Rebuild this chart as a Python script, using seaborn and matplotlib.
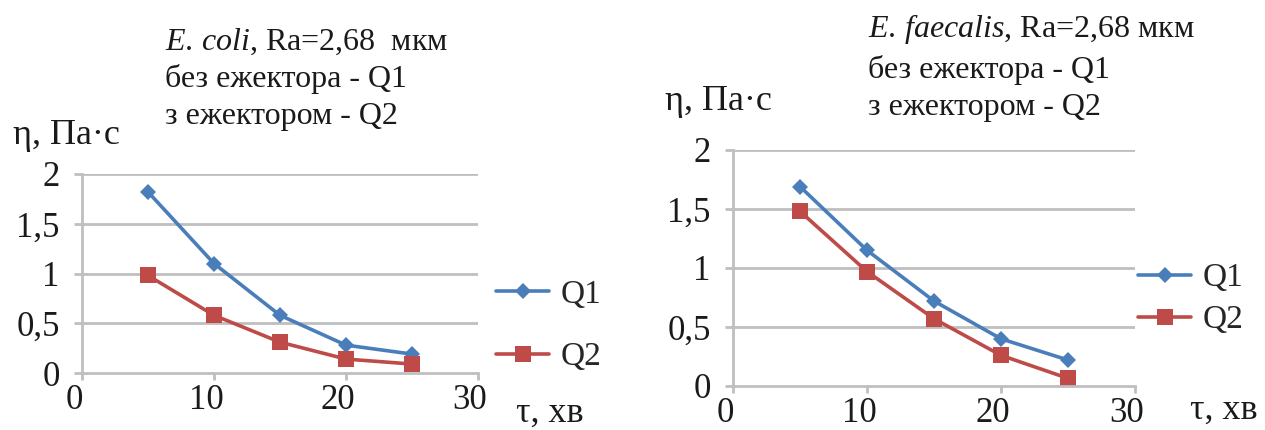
import matplotlib
matplotlib.use("Agg")
import matplotlib.pyplot as plt
import matplotlib.transforms as mtransforms
import seaborn as sns
import pandas as pd

# ---- data ----
time_min = [5, 10, 15, 20, 25]
ecoli_q1 = [1.82, 1.10, 0.58, 0.28, 0.19]
ecoli_q2 = [0.98, 0.58, 0.31, 0.14, 0.09]
faec_q1 = [1.69, 1.15, 0.72, 0.40, 0.22]
faec_q2 = [1.48, 0.97, 0.57, 0.26, 0.065]
series_names = ["Q1", "Q2"]
x_ticks = [0, 10, 20, 30]
y_ticks = [0, 0.5, 1, 1.5, 2]
y_ticklabels = ["0", "0,5", "1", "1,5", "2"]
titles_left = [r"$\mathit{E.\,coli}$, Ra=2,68  мкм", "без ежектора - Q1", "з ежектором - Q2"]
titles_right = [r"$\mathit{E.\,faecalis}$, Ra=2,68 мкм", "без ежектора - Q1", "з ежектором - Q2"]
ylabel = "η, Па·с"
xlabel = "τ, хв"

sns.set_theme(style="white")
plt.rcParams["font.family"] = "serif"
plt.rcParams["font.serif"] = ["Liberation Serif", "DejaVu Serif"]
plt.rcParams["mathtext.fontset"] = "custom"
plt.rcParams["mathtext.it"] = "Liberation Serif:italic"
plt.rcParams["mathtext.rm"] = "Liberation Serif"

SERIF = ["Liberation Serif", "DejaVu Serif"]

W, H = 1265, 430
fig = plt.figure(figsize=(W / 100, H / 100), dpi=100)
fig.patch.set_facecolor("white")

blue = "#4a7ebb"
red = "#be4b48"
grid_c = "#bfbfbf"
FS_T = 23
FS_TICK = 25
FS_LEG = 24
txt_c = "#1a1a1a"


def px_rect(x0, x1, y_top, y_bot):
    return [x0 / W, 1 - y_bot / H, (x1 - x0) / W, (y_bot - y_top) / H]


def make_panel(rect, q1, q2, titles, title_x, title_ys, ylab_xy, xlab_xy,
               leg_xy, leg_spacing):
    ax = fig.add_axes(rect)
    df = pd.DataFrame({
        "t": time_min * 2,
        "eta": list(q1) + list(q2),
        "s": [series_names[0]] * len(time_min) + [series_names[1]] * len(time_min),
    })
    sns.lineplot(data=df, x="t", y="eta", hue="s", style="s",
                 palette={"Q1": blue, "Q2": red},
                 markers={"Q1": "D", "Q2": "s"}, dashes=False,
                 markersize=9, linewidth=2.6, ax=ax, legend=True,
                 markeredgewidth=0)
    for ln in ax.get_lines():
        if ln.get_marker() == "D":
            ln.set_markersize(8.5)
        elif ln.get_marker() == "s":
            ln.set_markersize(11)
    ax.set_xlim(0, 30)
    ax.set_ylim(0, 2)
    ax.set_xticks(x_ticks)
    ax.set_xticklabels([str(v) for v in x_ticks], family=SERIF)
    ax.set_yticks(y_ticks)
    ax.set_yticklabels(y_ticklabels, family=SERIF)
    ax.set_xlabel("")
    ax.set_ylabel("")
    ax.grid(False)
    for yv in y_ticks[1:]:
        ax.axhline(yv, color=grid_c, lw=2.0, zorder=0)
    for side in ["top", "right"]:
        ax.spines[side].set_visible(False)
    for side in ["left", "bottom"]:
        ax.spines[side].set_color(grid_c)
        ax.spines[side].set_linewidth(2.0)
    ax.tick_params(axis="y", which="major", direction="out", length=6,
                   width=2.0, color=grid_c, labelsize=FS_TICK, pad=10,
                   labelcolor=txt_c)
    ax.tick_params(axis="x", which="major", direction="out", length=5,
                   width=2.0, color=grid_c, labelsize=FS_TICK, pad=3,
                   labelcolor=txt_c)
    ax.tick_params(left=True, bottom=True)
    off = mtransforms.ScaledTranslation(-8 / 100, 0, fig.dpi_scale_trans)
    for lab in ax.get_xticklabels():
        lab.set_transform(lab.get_transform() + off)
    ax.set_facecolor("white")

    handles, labels = ax.get_legend_handles_labels()
    ax.legend(handles, labels, loc="center left",
              bbox_to_anchor=(leg_xy[0] / W, 1 - leg_xy[1] / H),
              bbox_transform=fig.transFigure, frameon=False,
              prop={"family": SERIF, "size": FS_LEG},
              handlelength=1.6, handletextpad=0.35, borderpad=0,
              borderaxespad=0, labelspacing=leg_spacing, title=None)

    for txt, ty in zip(titles, title_ys):
        fig.text(title_x / W, 1 - ty / H, txt, fontsize=FS_T, ha="left",
                 va="center", color=txt_c, family=SERIF)
    fig.text(ylab_xy[0] / W, 1 - ylab_xy[1] / H, ylabel, fontsize=26,
             ha="left", va="center", color=txt_c, family=SERIF)
    fig.text(xlab_xy[0] / W, 1 - xlab_xy[1] / H, xlabel, fontsize=26,
             ha="left", va="center", color=txt_c, family=SERIF)
    return ax


make_panel(px_rect(82, 478, 174, 373), ecoli_q1, ecoli_q2, titles_left,
           165, [42, 79, 116], (13, 136), (516, 413), (496, 326), 0.95)
make_panel(px_rect(733, 1135, 150, 386), faec_q1, faec_q2, titles_right,
           868, [29, 70, 108], (665, 102), (1190, 410), (1138, 299), 0.35)

fig.savefig("out.png", dpi=100, facecolor="white")
